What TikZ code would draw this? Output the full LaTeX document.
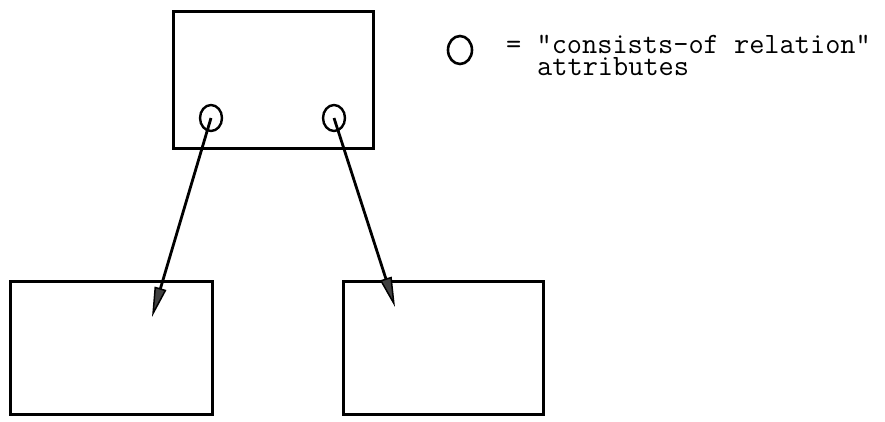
\documentclass[tikz,border=0pt]{standalone}
\usepackage{fontspec}
\usetikzlibrary{shapes.geometric,arrows.meta}
\begin{document}
\begin{tikzpicture}[x=1pt,y=-1pt,
  entity/.style={draw, line width=3pt, rectangle, inner sep=0pt},
  attr/.style={draw, line width=2.4pt, ellipse, inner sep=0pt, minimum width=22pt, minimum height=26pt},
  link/.style={line width=2.8pt, -{Triangle[length=30pt, width=12pt, line width=1.5pt, fill=black!75]}},
  legend/.style={font=\ttfamily\fontsize{29.5pt}{22pt}\selectfont, inner sep=0pt, align=left}]
\useasboundingbox (0,0) rectangle (885,421);

% entity boxes
\node[entity, minimum width=200pt, minimum height=137pt] (top) at (273,79.5) {};
\node[entity, minimum width=202pt, minimum height=133pt] (left) at (111,347.5) {};
\node[entity, minimum width=200pt, minimum height=133pt] (right) at (443,347.5) {};

% consists-of attributes
\node[attr] (ca) at (211,118) {};
\node[attr] (cb) at (334,118) {};

% arrow tips inside the component boxes
\coordinate (ta) at (152,317);
\coordinate (tb) at (395,307);

\draw[link] (ca.center) -- (ta);
\draw[link] (cb.center) -- (tb);

% legend: symbol and its two-line explanation (base = last line)
\node[draw, ellipse, line width=2.6pt, inner sep=0pt, minimum width=24pt, minimum height=28pt] (key) at (460,50) {};
\node[legend, anchor=base west] (keytext) at (506,75)
  {= "consists-of relation"\\\hspace*{1.05em}attributes};
\end{tikzpicture}
\end{document}
